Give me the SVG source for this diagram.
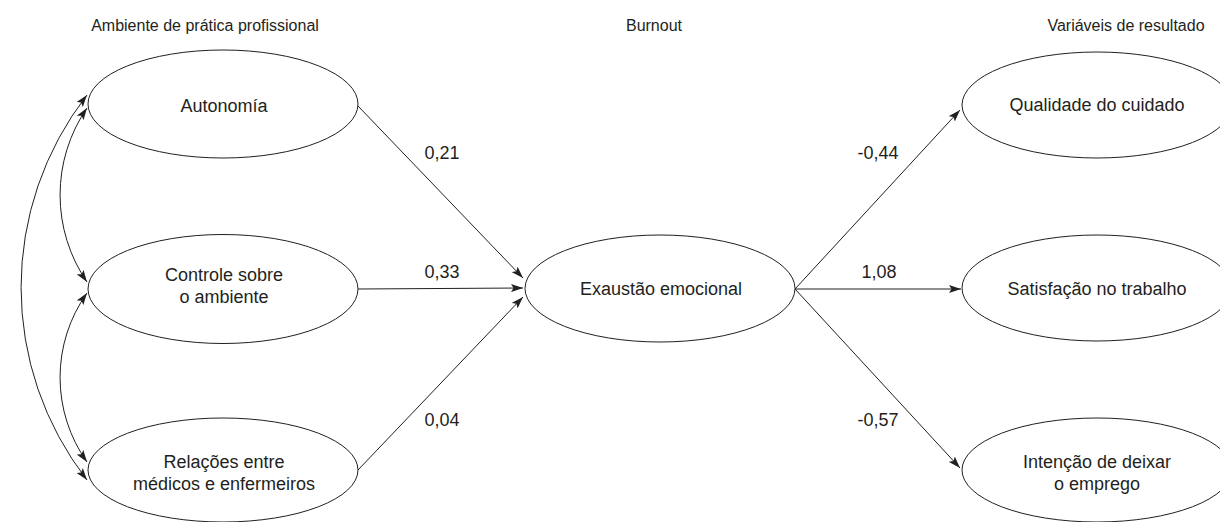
<svg xmlns="http://www.w3.org/2000/svg" width="1220" height="522" viewBox="0 0 1220 522">
<style>
.node ellipse{fill:#fff;stroke:#231f20;stroke-width:1}
text{font-family:"Liberation Sans",Arial,sans-serif;fill:#231f20}
.lbl{font-size:18px;text-anchor:middle}
.hdr{font-size:16px;text-anchor:middle}
.num{font-size:18px;text-anchor:middle}
.conn path,.conn line{fill:none;stroke:#231f20;stroke-width:1}
</style>
<defs>
<marker id="ah" viewBox="0 0 12 8" refX="12" refY="4" markerWidth="12" markerHeight="8" markerUnits="userSpaceOnUse" orient="auto-start-reverse">
<path d="M0,0 L12,4 L0,8 L2.5,4 z" fill="#231f20"/>
</marker>
</defs>
<g id="headers">
<text class="hdr" x="205" y="31">Ambiente de prática profissional</text>
<text class="hdr" x="654" y="31">Burnout</text>
<text class="hdr" x="1126" y="31">Variáveis de resultado</text>
</g>
<g class="conn" id="connectors">
<path d="M87,95 A314,314 0 0 0 87,480" marker-start="url(#ah)" marker-end="url(#ah)"/>
<path d="M87,108 A154,154 0 0 0 87,282" marker-start="url(#ah)" marker-end="url(#ah)"/>
<path d="M87,293 A146,146 0 0 0 87,462" marker-start="url(#ah)" marker-end="url(#ah)"/>
<line x1="358" y1="106" x2="523" y2="278" marker-end="url(#ah)"/>
<line x1="358" y1="289" x2="523" y2="288" marker-end="url(#ah)"/>
<line x1="358" y1="470" x2="523" y2="297" marker-end="url(#ah)"/>
<line x1="795" y1="289" x2="960" y2="110" marker-end="url(#ah)"/>
<line x1="795" y1="289" x2="961" y2="289" marker-end="url(#ah)"/>
<line x1="795" y1="289" x2="960" y2="468" marker-end="url(#ah)"/>
<text class="num" x="442" y="159">0,21</text>
<text class="num" x="442" y="278">0,33</text>
<text class="num" x="442" y="426">0,04</text>
<text class="num" x="878" y="159">-0,44</text>
<text class="num" x="879" y="278">1,08</text>
<text class="num" x="878" y="426">-0,57</text>
</g>
<g class="node" id="autonomia">
<ellipse cx="223" cy="104" rx="135" ry="54"/>
<text class="lbl" x="224" y="112">Autonomía</text>
</g>
<g class="node" id="controle">
<ellipse cx="223" cy="289" rx="135" ry="54.5"/>
<text class="lbl" x="224" y="281">Controle sobre</text>
<text class="lbl" x="224" y="303">o ambiente</text>
</g>
<g class="node" id="relacoes">
<ellipse cx="223" cy="470" rx="135" ry="52"/>
<text class="lbl" x="224" y="468">Relações entre</text>
<text class="lbl" x="224" y="490">médicos e enfermeiros</text>
</g>
<g class="node" id="exaustao">
<ellipse cx="660" cy="288.5" rx="135" ry="53.5"/>
<text class="lbl" x="661" y="295">Exaustão emocional</text>
</g>
<g class="node" id="qualidade">
<ellipse cx="1097" cy="105" rx="135" ry="53"/>
<text class="lbl" x="1097" y="111">Qualidade do cuidado</text>
</g>
<g class="node" id="satisfacao">
<ellipse cx="1097" cy="288" rx="135" ry="53"/>
<text class="lbl" x="1097" y="295">Satisfação no trabalho</text>
</g>
<g class="node" id="intencao">
<ellipse cx="1097" cy="470" rx="135" ry="52"/>
<text class="lbl" x="1097" y="468">Intenção de deixar</text>
<text class="lbl" x="1097" y="490">o emprego</text>
</g>
</svg>
